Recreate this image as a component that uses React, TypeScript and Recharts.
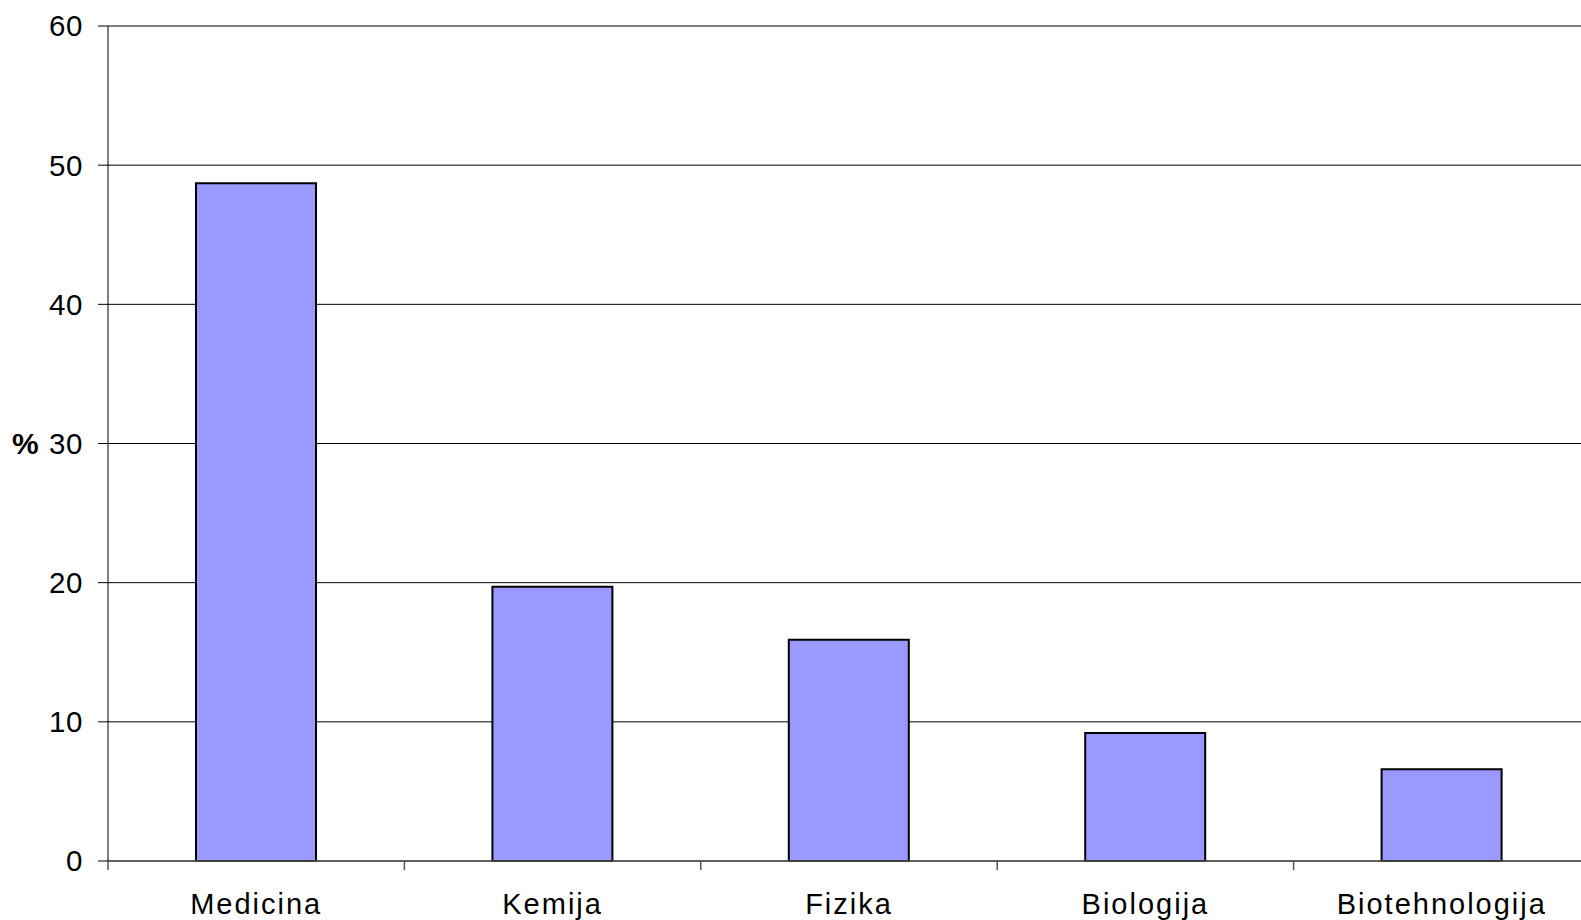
import React from 'react';
import { BarChart, Bar, XAxis, YAxis, CartesianGrid } from 'recharts';

const categories = ['Medicina', 'Kemija', 'Fizika', 'Biologija', 'Biotehnologija'];
const percentages = [48.7, 19.7, 15.9, 9.2, 6.6];
const yTicks = [0, 10, 20, 30, 40, 50, 60];

const data = categories.map((name, i) => ({ name, value: percentages[i] }));

const FONT = '"Liberation Sans", Arial, sans-serif';
const TICK_LEN = 9;

function CategoryTick(props: any) {
  const { x, y, payload, index, visibleTicksCount } = props;
  const half = payload && typeof payload.offset === 'number' ? payload.offset : 0;
  const count = visibleTicksCount ?? categories.length;
  const lines = [x - half];
  if (index === count - 1) lines.push(x + half);
  return (
    <g>
      {lines.map((lx, i) => (
        <line key={i} x1={lx} x2={lx} y1={y - TICK_LEN} y2={y} stroke="#555" strokeWidth={1.5} />
      ))}
      <text
        x={x}
        y={y + 44}
        textAnchor="middle"
        fill="#000"
        fontSize={29}
        fontFamily={FONT}
        letterSpacing={2}
      >
        {payload.value}
      </text>
    </g>
  );
}

export default function App() {
  return (
    <div style={{ position: 'fixed', left: 0, top: 0, width: 1581, height: 920, overflow: 'hidden', background: '#fff' }}>
      <BarChart
        width={1600}
        height={920}
        data={data}
        margin={{ top: 26, right: 10, left: 0, bottom: 0 }}
        barSize={120}
      >
        <CartesianGrid vertical={false} stroke="#000" strokeWidth={1} />
        <XAxis
          dataKey="name"
          height={59}
          axisLine={{ stroke: '#555', strokeWidth: 1.5 }}
          tickLine={false}
          tickSize={TICK_LEN}
          tickMargin={0}
          interval={0}
          tick={<CategoryTick />}
        />
        <YAxis
          width={108}
          domain={[0, 60]}
          ticks={yTicks}
          interval={0}
          tickSize={10}
          tickMargin={15}
          axisLine={{ stroke: '#000', strokeWidth: 1 }}
          tickLine={{ stroke: '#000', strokeWidth: 1 }}
          tick={{ fill: '#000', fontSize: 29.5, fontFamily: FONT, letterSpacing: 0.6 }}
          label={{ value: '%', position: 'insideLeft', offset: 12, fill: '#000', fontSize: 30, fontWeight: 'bold', fontFamily: FONT, letterSpacing: 2 }}
        />
        <Bar dataKey="value" fill="#9999FF" stroke="#000" strokeWidth={2} isAnimationActive={false} />
      </BarChart>
    </div>
  );
}
